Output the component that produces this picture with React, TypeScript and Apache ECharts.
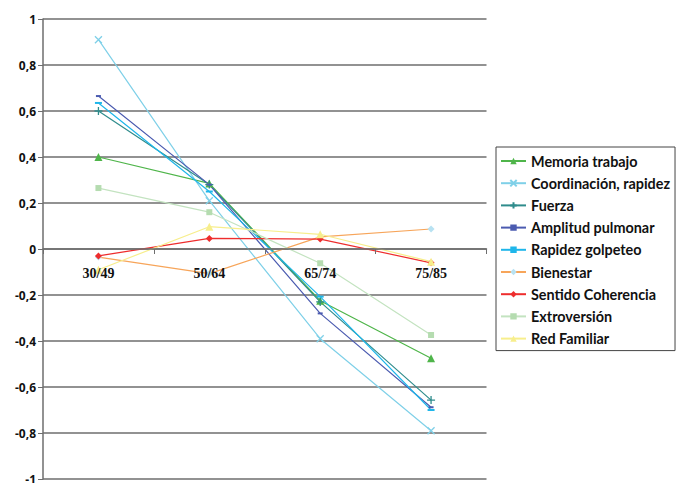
import React, { useEffect, useRef } from "react";
import * as echarts from "echarts";

const categories = ["30/49", "50/64", "65/74", "75/85"];
const memoriaTrabajo = [0.4, 0.285, -0.225, -0.475];
const coordinacionRapidez = [0.91, 0.21, -0.39, -0.79];
const fuerza = [0.6, 0.28, -0.23, -0.657];
const amplitudPulmonar = [0.665, 0.28, -0.28, -0.688];
const rapidezGolpeteo = [0.635, 0.25, -0.207, -0.7];
const bienestar = [-0.035, -0.107, 0.053, 0.087];
const sentidoCoherencia = [-0.03, 0.046, 0.043, -0.06];
const extroversion = [0.265, 0.16, -0.062, -0.374];
const redFamiliar = [-0.09, 0.097, 0.064, -0.055];

const seriesNames = [
  "Memoria trabajo",
  "Coordinación, rapidez",
  "Fuerza",
  "Amplitud pulmonar",
  "Rapidez golpeteo",
  "Bienestar",
  "Sentido Coherencia",
  "Extroversión",
  "Red Familiar",
];

const CROSS = "path://M0,0L10,10M10,0L0,10";
const PLUS = "path://M5,0L5,10M0,5L10,5";

export default function App() {
  const ref = useRef<HTMLDivElement>(null);
  useEffect(() => {
    if (!ref.current) return;
    const chart = echarts.init(ref.current, null, { renderer: "svg" });
    const mk = (
      name: string,
      data: number[],
      lineColor: string,
      markerColor: string,
      symbol: string,
      symbolSize: number | number[],
      stroke = false
    ) => ({
      name,
      type: "line",
      data,
      symbol,
      symbolSize,
      showSymbol: true,
      lineStyle: { color: lineColor, width: 1.2 },
      itemStyle: stroke
        ? { color: markerColor, borderColor: markerColor, borderWidth: 1.3 }
        : { color: markerColor, borderWidth: 0 },
      z: 2,
    });
    const series = [
      mk(seriesNames[0], memoriaTrabajo, "#4fb54a", "#4fb54a", "triangle", 8),
      mk(seriesNames[1], coordinacionRapidez, "#7fd0e8", "#7fd0e8", CROSS, 7, true),
      mk(seriesNames[2], fuerza, "#2f8c8c", "#2f8c8c", PLUS, 8, true),
      mk(seriesNames[3], amplitudPulmonar, "#4b5bb0", "#4b5bb0", "rect", [5, 2]),
      mk(seriesNames[4], rapidezGolpeteo, "#1fb6ea", "#1fb6ea", "rect", [7, 2]),
      mk(seriesNames[5], bienestar, "#f7a55a", "#b8e2f2", "diamond", 7),
      mk(seriesNames[6], sentidoCoherencia, "#ee2d2d", "#ee2d2d", "diamond", 7),
      mk(seriesNames[7], extroversion, "#c3e3c0", "#b5dcb0", "rect", 6),
      mk(seriesNames[8], redFamiliar, "#f7ee8c", "#f7ee8c", "triangle", 8),
    ];
    chart.setOption({
      animation: false,
      backgroundColor: "#ffffff",
      grid: {
        left: 43,
        right: 204.5,
        top: 19,
        bottom: 4,
        containLabel: false,
        outerBoundsMode: "none",
      },
      legend: {
        orient: "vertical",
        left: 496,
        top: 147,
        data: seriesNames,
        itemWidth: 25,
        itemHeight: 8,
        itemGap: 6.2,
        padding: [6, 5, 4, 4],
        borderColor: "#444",
        borderWidth: 1,
        borderRadius: 0,
        textStyle: {
          fontFamily: "Lato",
          fontWeight: "bold",
          fontSize: 14.4,
          color: "#111",
          lineHeight: 16,
        },
      },
      xAxis: {
        type: "category",
        data: categories,
        boundaryGap: true,
        offset: -230,
        z: 5,
        axisLine: { show: true, onZero: false, lineStyle: { color: "#6e6e6e", width: 1.5 } },
        axisTick: { show: true, length: 5, lineStyle: { color: "#6e6e6e" } },
        axisLabel: {
          margin: 17,
          color: "#111",
          fontFamily: "Liberation Serif",
          fontWeight: "bold",
          fontSize: 14,
        },
        splitLine: { show: false },
      },
      yAxis: {
        type: "value",
        min: -1,
        max: 1,
        interval: 0.2,
        axisLine: { show: true, lineStyle: { color: "#6e6e6e", width: 1.5 } },
        axisTick: { show: true, length: 5, lineStyle: { color: "#6e6e6e" } },
        splitLine: { show: true, lineStyle: { color: "#6e6e6e", width: 1.5 } },
        axisLabel: {
          margin: 7,
          color: "#111",
          fontFamily: "Open Sans",
          fontWeight: "bold",
          fontSize: 12,
          formatter: (v: number) => {
            const r = Math.round(v * 10) / 10;
            return String(r).replace(".", ",");
          },
        },
      },
      series,
    });
    return () => chart.dispose();
  }, []);
  return (
    <div
      ref={ref}
      style={{ position: "fixed", left: 0, top: 0, width: 691, height: 483 }}
    />
  );
}
